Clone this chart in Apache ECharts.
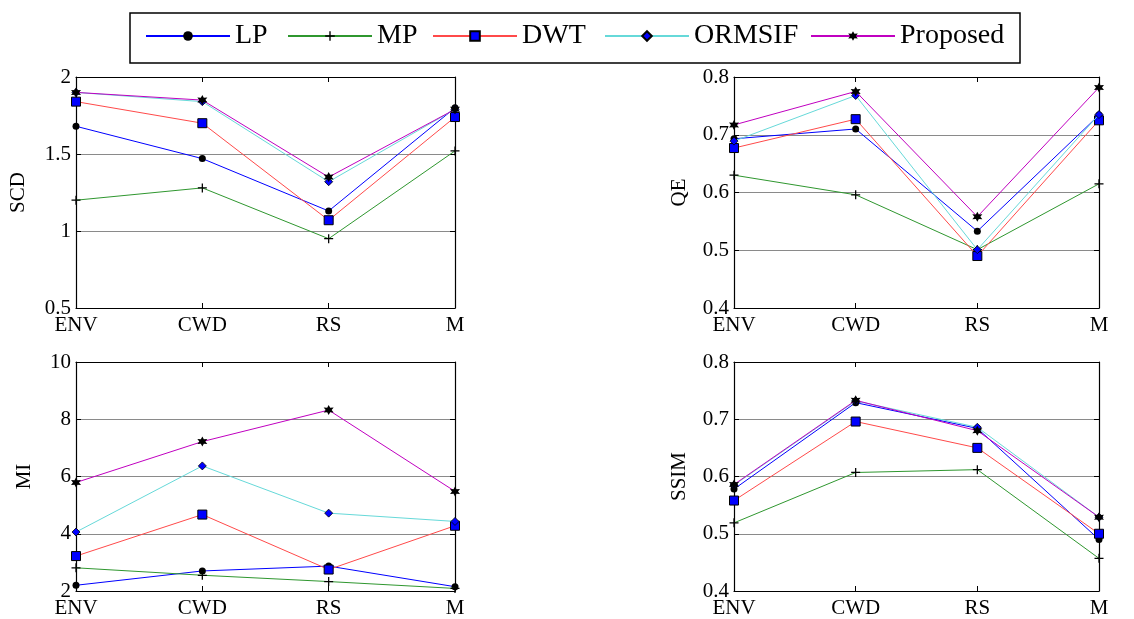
<!DOCTYPE html>
<html>
<head>
<meta charset="utf-8">
<script src="https://cdn.jsdelivr.net/npm/echarts@6/dist/echarts.min.js"></script>
<style>
html,body{margin:0;padding:0;background:#fff;}
#chart{width:1134px;height:619px;}
</style>
</head>
<body>
<div id="chart"></div>
<script>
// ---- data ----
const categories = ['ENV', 'CWD', 'RS', 'M'];
const methods = ['LP', 'MP', 'DWT', 'ORMSIF', 'Proposed'];
const metricNames = ['SCD', 'QE', 'MI', 'SSIM'];

const scdLP       = [1.68, 1.47, 1.13, 1.80];
const scdMP       = [1.20, 1.28, 0.95, 1.52];
const scdDWT      = [1.84, 1.70, 1.07, 1.74];
const scdORMSIF   = [1.90, 1.84, 1.32, 1.79];
const scdProposed = [1.90, 1.85, 1.35, 1.79];

const qeLP       = [0.693, 0.710, 0.533, 0.734];
const qeMP       = [0.630, 0.596, 0.501, 0.615];
const qeDWT      = [0.677, 0.727, 0.490, 0.725];
const qeORMSIF   = [0.689, 0.768, 0.501, 0.735];
const qeProposed = [0.717, 0.775, 0.558, 0.782];

const miLP       = [2.20, 2.70, 2.87, 2.15];
const miMP       = [2.81, 2.55, 2.33, 2.09];
const miDWT      = [3.22, 4.67, 2.75, 4.28];
const miORMSIF   = [4.06, 6.37, 4.72, 4.43];
const miProposed = [5.79, 7.22, 8.32, 5.48];

const ssimLP       = [0.578, 0.729, 0.684, 0.490];
const ssimMP       = [0.519, 0.607, 0.612, 0.457];
const ssimDWT      = [0.558, 0.696, 0.650, 0.500];
const ssimORMSIF   = [0.585, 0.732, 0.686, 0.529];
const ssimProposed = [0.586, 0.733, 0.680, 0.529];

const yMin      = [0.5, 0.4, 2, 0.4];
const yMax      = [2, 0.8, 10, 0.8];
const yInterval = [0.5, 0.1, 2, 0.1];

const panelData = [
  [scdLP, scdMP, scdDWT, scdORMSIF, scdProposed],
  [qeLP, qeMP, qeDWT, qeORMSIF, qeProposed],
  [miLP, miMP, miDWT, miORMSIF, miProposed],
  [ssimLP, ssimMP, ssimDWT, ssimORMSIF, ssimProposed]
];

// ---- styling ----
const FONT = '"Liberation Serif", "Times New Roman", serif';
const lineColors = ['#0000ff', '#2f972f', '#ff4a4a', '#66d9d9', '#c000c0'];

function hexagramPath() {
  const pts = [];
  for (let k = 0; k < 12; k++) {
    const a = (-90 + k * 30) * Math.PI / 180;
    const r = (k % 2 === 0) ? 10 : 5.2;
    pts.push((10 + r * Math.cos(a)).toFixed(2) + ',' + (10 + r * Math.sin(a)).toFixed(2));
  }
  return 'path://M' + pts.join('L') + 'Z';
}
const plusPath = 'path://M4.3,0h1.4v10h-1.4z M0,4.3h10v1.4h-10z';

const symbols = [
  {symbol: 'circle', size: 7, color: '#000', border: '#000', bw: 0},
  {symbol: plusPath, size: 9, color: '#000', border: '#000', bw: 0},
  {symbol: 'rect', size: 9, color: '#0000ff', border: '#000', bw: 1},
  {symbol: 'diamond', size: 8, color: '#0000ff', border: '#000', bw: 0.8},
  {symbol: hexagramPath(), size: 10, color: '#000', border: '#000', bw: 0}
];

const grids = [
  {left: 76, top: 77, width: 379, height: 231},
  {left: 734, top: 77, width: 365, height: 231},
  {left: 76, top: 362, width: 379, height: 230},
  {left: 734, top: 362, width: 365, height: 230}
];
const nameGaps = [47, 44, 41, 44];

const xAxes = [], yAxes = [], series = [];
grids.forEach((g, i) => {
  xAxes.push({
    gridIndex: i, type: 'category', data: categories, boundaryGap: false, position: 'bottom',
    axisLine: {show: true, lineStyle: {color: '#000', width: 1.2}},
    axisTick: {show: true, inside: true, length: 5, lineStyle: {color: '#000'}},
    axisLabel: {show: true, interval: 0, margin: 7, color: '#000', fontSize: 21, fontFamily: FONT},
    splitLine: {show: false}
  });
  xAxes.push({
    gridIndex: i, type: 'category', data: categories, boundaryGap: false, position: 'top',
    axisLine: {show: true, onZero: false, lineStyle: {color: '#000', width: 1.2}},
    axisTick: {show: true, inside: true, length: 5, lineStyle: {color: '#000'}},
    axisLabel: {show: false}, splitLine: {show: false}
  });
  yAxes.push({
    gridIndex: i, type: 'value', position: 'left', min: yMin[i], max: yMax[i], interval: yInterval[i],
    name: metricNames[i], nameLocation: 'middle', nameGap: nameGaps[i],
    nameTextStyle: {color: '#000', fontSize: 21, fontFamily: FONT},
    axisLine: {show: true, onZero: false, lineStyle: {color: '#000', width: 1.2}},
    axisTick: {show: true, inside: true, length: 5, lineStyle: {color: '#000'}},
    axisLabel: {show: true, margin: 5, color: '#000', fontSize: 21, fontFamily: FONT},
    splitLine: {show: true, lineStyle: {color: '#8a8a8a', type: 'solid', width: 1}}
  });
  yAxes.push({
    gridIndex: i, type: 'value', position: 'right', min: yMin[i], max: yMax[i], interval: yInterval[i],
    axisLine: {show: true, onZero: false, lineStyle: {color: '#000', width: 1.2}},
    axisTick: {show: true, inside: true, length: 5, lineStyle: {color: '#000'}},
    axisLabel: {show: false}, splitLine: {show: false}
  });
  methods.forEach((m, j) => {
    const s = symbols[j];
    series.push({
      name: m, type: 'line', xAxisIndex: 2 * i, yAxisIndex: 2 * i,
      data: panelData[i][j],
      symbol: s.symbol, symbolSize: s.size, showSymbol: true,
      lineStyle: {color: lineColors[j], width: 1},
      itemStyle: {color: s.color, borderColor: s.border, borderWidth: s.bw},
      z: 2 + j, animation: false, clip: false
    });
  });
});

const legendLefts = [145, 287, 432, 604, 810];
const legends = methods.map((m, j) => ({
  data: [m], left: legendLefts[j], top: 22, padding: 0,
  itemWidth: 84, itemHeight: 12, itemGap: 0,
  textStyle: {color: '#000', fontSize: 28, fontFamily: FONT}
}));

const chart = echarts.init(document.getElementById('chart'), null, {renderer: 'canvas'});
chart.setOption({
  animation: false,
  backgroundColor: '#fff',
  grid: grids,
  xAxis: xAxes,
  yAxis: yAxes,
  legend: legends,
  series: series,
  graphic: [{
    type: 'rect', shape: {x: 130, y: 13, width: 890, height: 50},
    style: {fill: 'none', stroke: '#000', lineWidth: 1.5}, z: 0
  }]
});
</script>
</body>
</html>
